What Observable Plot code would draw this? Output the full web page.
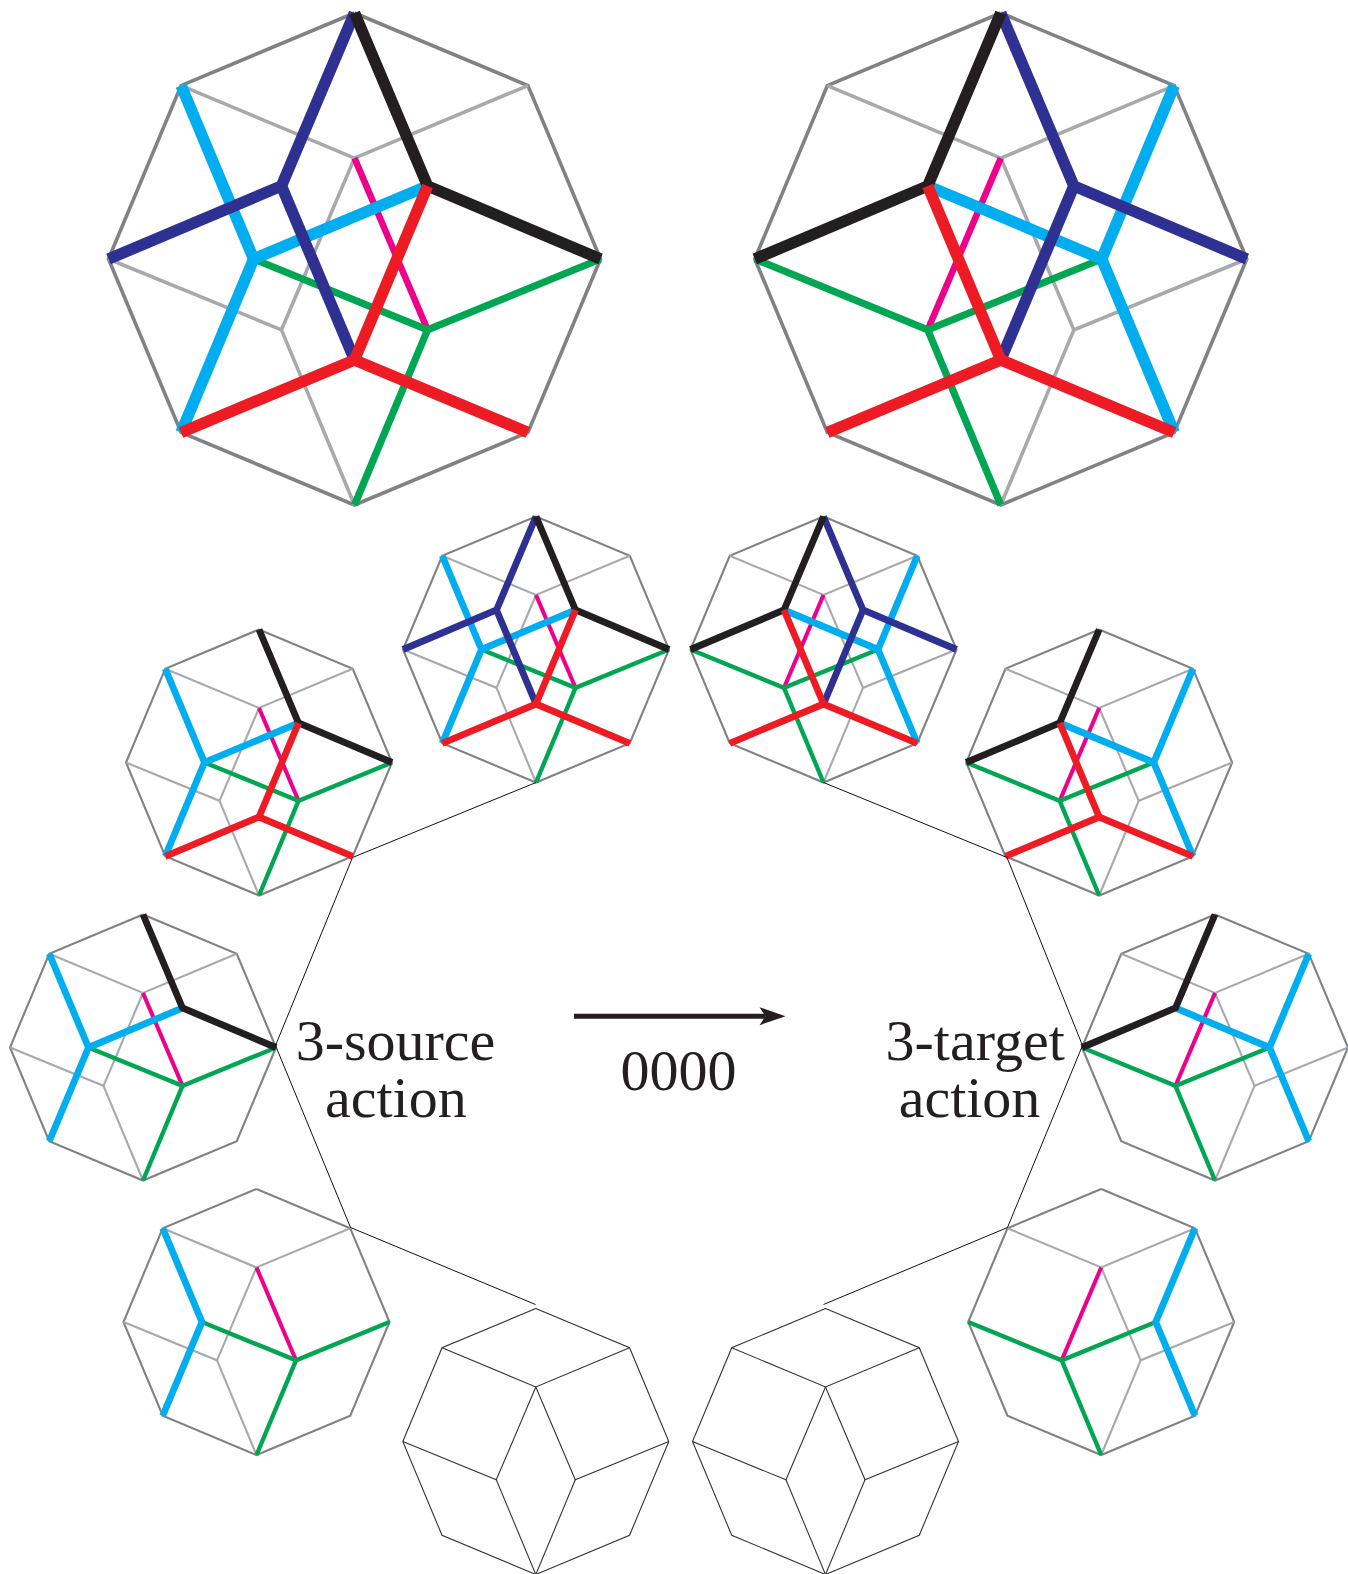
<!DOCTYPE html>
<html>
<head>
<meta charset="utf-8">
<style>html,body{margin:0;padding:0;background:#fff}svg{display:block}</style>
<script src="https://cdn.jsdelivr.net/npm/d3@7"></script>
<script src="https://cdn.jsdelivr.net/npm/@observablehq/plot@0.6"></script>
</head>
<body>
<div id="chart"></div>
<script>
// Nodes of the projected 4-cube, in units of a panel's radius
const nodeNames = ["T","UR","R","LR","B","LL","L","UL","N","S","W","E","NW","NE","SW","SE"];
const nodeX = [0,.705,1,.705,0,-.705,-1,-.705,0,0,-.41,.41,-.297,.297,-.297,.297];
const nodeY = [-1,-.705,0,.705,1,.705,0,-.705,-.41,.41,0,0,-.297,-.297,.288,.288];

// Edge paths, by the colour group they belong to
const outerPaths = [["T","UR","R","LR","B","LL","L","UL","T"]];
const lightPaths = [["UL","N","UR"],["N","SW","L"],["SW","B"]];
const openPaths = [["N","SE","R"],["SE","B"]];
const magentaPaths = [["N","SE"]];
const greenPaths = [["W","SE","R"],["SE","B"]];
const cyanPaths = [["UL","W","LL"]];
const cyanLatePaths = [["W","NE"]];
const bluePaths = [["T","NW","L"],["NW","S"]];
const blackPaths = [["T","NE","R"]];
const redPaths = [["LL","S","LR"],["S","NE"]];

// Panels: centre, radius, mirrored?, how many stages are coloured in
const panelX = [354,1000.3,535.5,823,258.5,1098.7,142.5,1214.5,256,1100.7,535.3,825];
const panelY = [258.5,258.5,649,649,762,762,1047,1047,1321.5,1321.5,1441,1441];
const panelR = [246,246,133,133,133,133,133,133,133,133,133,133];
const panelMirror = [0,1,0,1,0,1,0,1,0,1,0,1];
const panelStage = [4,4,4,4,3,3,2,2,1,1,0,0];

// Connector polylines
const linkLeftX = [535.5,352,275,350,535];
const linkLeftY = [782,857,1045,1227,1304];
const linkRightX = [823,1006.5,1082,1007,823];
const linkRightY = [782,857,1045,1227,1304];

// Labels
const labelText = ["3-source","action","0000","3-target","action"];
const labelX = [395,395.3,678,974.6,969];
const labelY = [1059,1116.7,1089.5,1059,1116.7];

// Arrow
const arrowX = [573.5,765];
const arrowY = [1015.7,1015.7];
const arrowTip = [{x:785,y:1015.7}];

// ---- styling, separate from the values ----
const ink = "#231f20";
const layers = [
  {paths:outerPaths,   stroke:"#808285", minStage:1, bigW:3.6, smallW:2.1},
  {paths:lightPaths,   stroke:"#a7a9ac", minStage:1, bigW:3.6, smallW:2.1},
  {paths:openPaths,    stroke:"#333333", minStage:0, maxStage:0, bigW:1, smallW:1.1},
  {paths:outerPaths,   stroke:"#333333", minStage:0, maxStage:0, bigW:1, smallW:1.1},
  {paths:lightPaths,   stroke:"#333333", minStage:0, maxStage:0, bigW:1, smallW:1.1},
  {paths:magentaPaths, stroke:"#ec008c", minStage:1, bigW:6.5, smallW:4.1},
  {paths:greenPaths,   stroke:"#00a651", minStage:1, bigW:7.2, smallW:4.4},
  {paths:cyanPaths,    stroke:"#00aeef", minStage:1, bigW:11.5, smallW:6.8},
  {paths:cyanLatePaths,stroke:"#00aeef", minStage:2, bigW:11.5, smallW:6.8},
  {paths:bluePaths,    stroke:"#2e3192", minStage:4, bigW:11.5, smallW:6.8},
  {paths:blackPaths,   stroke:ink,       minStage:2, bigW:11.5, smallW:6.8},
  {paths:redPaths,     stroke:"#ed1c24", minStage:3, bigW:11.5, smallW:6.8}
];

const nodeIndex = new Map(nodeNames.map((n,i)=>[n,i]));

function layerRows(layer, li){
  const rows = [];
  panelX.forEach((cx,p)=>{
    const st = panelStage[p];
    if (st < layer.minStage) return;
    if (layer.maxStage !== undefined && st > layer.maxStage) return;
    const r = panelR[p], sign = panelMirror[p] ? -1 : 1;
    layer.paths.forEach((path,k)=>{
      path.forEach(name=>{
        const i = nodeIndex.get(name);
        rows.push({
          x: cx + sign*nodeX[i]*r,
          y: panelY[p] + nodeY[i]*r,
          z: `${li}-${p}-${k}`,
          w: r > 200 ? layer.bigW : layer.smallW
        });
      });
    });
  });
  return rows;
}

const polyline = (xs,ys) => xs.map((x,i)=>({x,y:ys[i]}));

// Filled, notched arrow head with its tip at the anchor point
const arrowHead = {
  draw(ctx){
    ctx.moveTo(0,0);
    ctx.lineTo(-26,-9);
    ctx.lineTo(-20,0);
    ctx.lineTo(-26,9);
    ctx.closePath();
  }
};

const marks = layers.map((layer,li)=>Plot.line(layerRows(layer,li),{
  x:"x", y:"y", z:"z",
  stroke:layer.stroke, strokeWidth:"w",
  fill:"none", curve:"linear",
  strokeLinecap:"butt", strokeLinejoin:"miter", strokeMiterlimit:6
}));

const linkStyle = {x:"x",y:"y",stroke:"#111",strokeWidth:1,curve:"linear",strokeLinecap:"butt",strokeLinejoin:"miter",strokeMiterlimit:10};
marks.push(Plot.line(polyline(linkLeftX,linkLeftY),linkStyle));
marks.push(Plot.line(polyline(linkRightX,linkRightY),linkStyle));

marks.push(Plot.line(polyline(arrowX,arrowY),{x:"x",y:"y",stroke:ink,strokeWidth:5,strokeLinecap:"butt"}));
marks.push(Plot.dot(arrowTip,{x:"x",y:"y",symbol:arrowHead,r:3,fill:ink,stroke:"none"}));

marks.push(Plot.text(labelText.map((t,i)=>({t,x:labelX[i],y:labelY[i]})),{
  x:"x", y:"y", text:"t",
  textAnchor:"middle", lineAnchor:"bottom",
  fontFamily:"'Liberation Serif', serif", fontSize:58, fill:ink
}));

const plot = Plot.plot({
  width:1348, height:1574,
  margin:0,
  x:{domain:[0,1348],range:[0,1348],axis:null},
  y:{domain:[0,1574],range:[0,1574],axis:null},
  style:{background:"#fff"},
  marks
});
document.getElementById("chart").appendChild(plot);
</script>
</body>
</html>
